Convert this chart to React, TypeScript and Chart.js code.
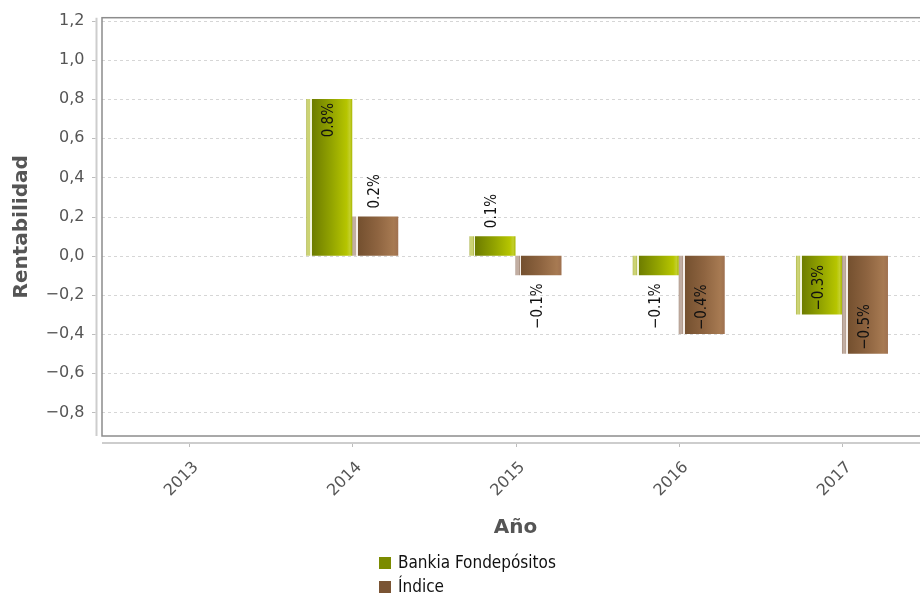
import React, { useEffect, useRef } from 'react';
import { Chart, registerables } from 'chart.js';

Chart.register(...registerables);

// ---- data ----
const CATEGORIES = ['2013', '2014', '2015', '2016', '2017'];
const FONDEPOSITOS = [null, 0.8, 0.1, -0.1, -0.3];
const INDICE = [null, 0.2, -0.1, -0.4, -0.5];
const Y_TICKS = [-0.8, -0.6, -0.4, -0.2, 0.0, 0.2, 0.4, 0.6, 0.8, 1.0, 1.2];
const SERIES_NAMES = ['Bankia Fondepósitos', 'Índice'];

// ---- styles ----
const LEGEND_COLORS = ['#7b8b00', '#7a5434'];
const GRADIENTS: [number, string][][] = [
  [
    [0, '#a4ad3a'], [0.02, '#ccd374'], [0.07, '#ccd374'], [0.09, '#b3bb52'],
    [0.09, '#f3f5df'], [0.13, '#f3f5df'], [0.13, '#6d7c00'], [0.55, '#93a400'],
    [0.88, '#b6c500'], [0.95, '#c3cf2c'], [1, '#a8b600'],
  ],
  [
    [0, '#9a8070'], [0.02, '#c2aea2'], [0.07, '#c2aea2'], [0.09, '#a89080'],
    [0.09, '#f5efe9'], [0.13, '#f5efe9'], [0.13, '#74502f'], [0.55, '#8e6440'],
    [0.9, '#a77a52'], [1, '#9f7150'],
  ],
];
const TICK_COLOR = '#555555';
const TITLE_COLOR = '#555555';

const fmtMinus = (s: string) => s.replace('-', '\u2212');
const fmtTick = (v: number) => fmtMinus(v.toFixed(1).replace('.', ','));
const fmtPct = (v: number) => fmtMinus(v.toFixed(1)) + '%';

const decorPlugin = {
  id: 'decor',
  beforeDatasetsDraw(chart: any) {
    const { ctx, chartArea: ca, scales } = chart;
    const y = scales.y;
    const frameLeft = ca.left - 5.4;
    ctx.save();
    ctx.strokeStyle = '#d6d6d6';
    ctx.lineWidth = 1;
    ctx.setLineDash([3, 3]);
    for (const t of y.ticks) {
      const py = Math.round(y.getPixelForValue(t.value)) + 0.5;
      ctx.beginPath();
      ctx.moveTo(frameLeft, py);
      ctx.lineTo(chart.width, py);
      ctx.stroke();
    }
    ctx.setLineDash([]);
    ctx.restore();

    chart.data.datasets.forEach((ds: any, di: number) => {
      const meta = chart.getDatasetMeta(di);
      meta.data.forEach((el: any) => {
        const { x, width } = el.getProps(['x', 'width'], true);
        if (!isFinite(x) || !isFinite(width)) return;
        const g = ctx.createLinearGradient(x - width / 2, 0, x + width / 2, 0);
        GRADIENTS[di].forEach(([o, c]) => g.addColorStop(o, c));
        el.options = Object.assign({}, el.options, { backgroundColor: g });
      });
    });
  },
  afterDatasetsDraw(chart: any) {
    const ctx = chart.ctx;
    ctx.save();
    ctx.font = '15px "DejaVu Sans Condensed"';
    ctx.fillStyle = '#111111';
    ctx.textBaseline = 'middle';
    chart.data.datasets.forEach((ds: any, di: number) => {
      const meta = chart.getDatasetMeta(di);
      meta.data.forEach((el: any, i: number) => {
        const v = ds.data[i];
        if (v == null) return;
        const { x, y, base } = el.getProps(['x', 'y', 'base'], true);
        const text = fmtPct(v);
        const w = ctx.measureText(text).width;
        const len = Math.abs(base - y);
        const inside = len >= w + 8;
        let anchor: number;
        let align: CanvasTextAlign;
        if (v >= 0) {
          if (inside) { anchor = y + 4; align = 'right'; } else { anchor = y - 8; align = 'left'; }
        } else {
          if (inside) { anchor = y - 4; align = 'left'; } else { anchor = y + 8; align = 'right'; }
        }
        ctx.save();
        ctx.translate(x, anchor);
        ctx.rotate(-Math.PI / 2);
        ctx.textAlign = align;
        ctx.fillText(text, 0, 0);
        ctx.restore();
      });
    });
    ctx.restore();
  },
  afterDraw(chart: any) {
    const { ctx, chartArea: ca, scales } = chart;
    const y = scales.y;
    const x = scales.x;
    const frameLeft = ca.left - 5.4;
    ctx.save();
    // plot frame
    ctx.strokeStyle = '#8c8c8c';
    ctx.lineWidth = 1.5;
    ctx.strokeRect(frameLeft, ca.top, chart.width + 20 - frameLeft, ca.bottom - ca.top);
    // y axis line
    ctx.strokeStyle = '#cdcdcd';
    ctx.lineWidth = 2;
    ctx.beginPath();
    ctx.moveTo(frameLeft - 5.5, ca.top);
    ctx.lineTo(frameLeft - 5.5, ca.bottom);
    ctx.stroke();
    // x axis line
    ctx.beginPath();
    ctx.moveTo(frameLeft, ca.bottom + 7);
    ctx.lineTo(chart.width, ca.bottom + 7);
    ctx.stroke();
    // tick marks
    ctx.strokeStyle = '#bdbdbd';
    ctx.lineWidth = 1;
    for (const t of y.ticks) {
      const py = Math.round(y.getPixelForValue(t.value)) + 0.5;
      ctx.beginPath();
      ctx.moveTo(frameLeft - 10, py);
      ctx.lineTo(frameLeft - 6.5, py);
      ctx.stroke();
    }
    x.ticks.forEach((_t: any, i: number) => {
      const px = Math.round(x.getPixelForTick(i)) + 0.5;
      ctx.beginPath();
      ctx.moveTo(px, ca.bottom + 8);
      ctx.lineTo(px, ca.bottom + 11);
      ctx.stroke();
    });
    // legend
    const lx = 379;
    const rows = [563, 587];
    ctx.font = '17px "DejaVu Sans Condensed"';
    ctx.textBaseline = 'middle';
    ctx.textAlign = 'left';
    chart.data.datasets.forEach((ds: any, di: number) => {
      const ry = rows[di];
      ctx.fillStyle = LEGEND_COLORS[di];
      ctx.fillRect(lx, ry - 6, 12, 12);
      ctx.fillStyle = '#111111';
      ctx.fillText(ds.label, lx + 19, ry + 0.5);
    });
    ctx.restore();
  },
};

export default function App() {
  const canvasRef = useRef<HTMLCanvasElement | null>(null);

  useEffect(() => {
    document.documentElement.style.overflow = 'hidden';
    document.body.style.overflow = 'hidden';
    const canvas = canvasRef.current;
    if (!canvas) return;
    const chart = new Chart(canvas, {
      type: 'bar',
      data: {
        labels: CATEGORIES,
        datasets: [
          { label: SERIES_NAMES[0], data: FONDEPOSITOS as any, backgroundColor: LEGEND_COLORS[0], borderWidth: 0 },
          { label: SERIES_NAMES[1], data: INDICE as any, backgroundColor: LEGEND_COLORS[1], borderWidth: 0 },
        ],
      },
      options: {
        animation: false,
        responsive: false,
        datasets: { bar: { categoryPercentage: 0.5636, barPercentage: 1.0 } },
        layout: { padding: { left: 0, top: 17.7, right: 16.4, bottom: 0 } },
        plugins: {
          legend: { display: false },
          tooltip: { enabled: false },
        },
        scales: {
          x: {
            grid: { display: false, drawTicks: true, tickLength: 18 },
            border: { display: false },
            ticks: {
              minRotation: 45,
              maxRotation: 45,
              autoSkip: false,
              padding: 4,
              labelOffset: 7,
              color: TICK_COLOR,
              font: { family: 'DejaVu Sans', size: 16 },
            },
            title: {
              display: true,
              text: 'Año',
              color: TITLE_COLOR,
              font: { family: 'DejaVu Sans', size: 20, weight: 'bold' },
              padding: { top: 0, bottom: 53 },
            },
            afterFit: (s: any) => { s.height = 157; },
          },
          y: {
            min: -0.92,
            max: 1.215,
            afterBuildTicks: (s: any) => { s.ticks = Y_TICKS.map((v) => ({ value: v })); },
            grid: { display: false, drawTicks: true, tickLength: 19 },
            border: { display: false },
            ticks: {
              padding: 4,
              color: TICK_COLOR,
              font: { family: 'DejaVu Sans', size: 16 },
              callback: (v: any) => fmtTick(Number(v)),
            },
            title: {
              display: true,
              text: 'Rentabilidad',
              color: TITLE_COLOR,
              font: { family: 'DejaVu Sans', size: 20, weight: 'bold' },
              padding: { top: 10, bottom: 0 },
            },
            afterFit: (s: any) => { s.width = 107.4; },
          },
        },
      },
      plugins: [decorPlugin],
    } as any);
    return () => chart.destroy();
  }, []);

  return (
    <div style={{ position: 'fixed', left: 0, top: 0, width: 940, height: 593, background: '#ffffff' }}>
      <canvas ref={canvasRef} width={940} height={593} style={{ display: 'block' }} />
    </div>
  );
}
